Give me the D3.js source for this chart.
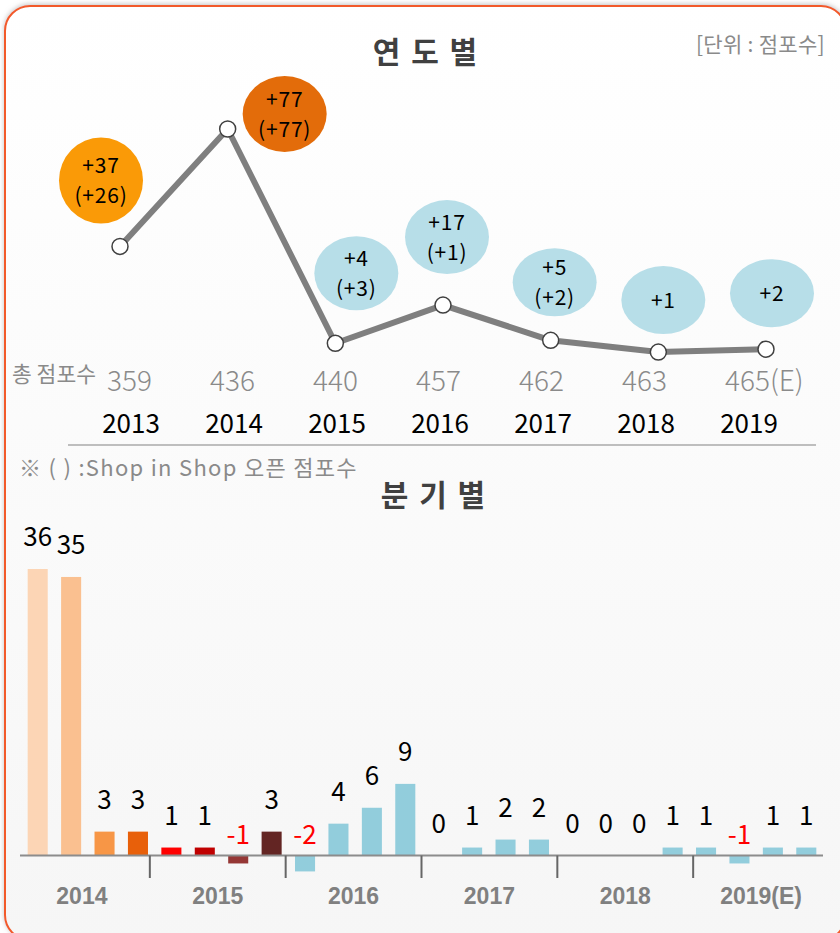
<!DOCTYPE html>
<html>
<head>
<meta charset="utf-8">
<script src="https://cdn.jsdelivr.net/npm/d3@7"></script>
<style>
  html, body { margin: 0; padding: 0; background: #fff; }
  svg { display: block; font-family: "Noto Sans CJK KR", "Noto Sans", sans-serif; }
</style>
</head>
<body>
<svg id="chart" width="840" height="933"></svg>
<script>
// yearly data
const years = ["2013", "2014", "2015", "2016", "2017", "2018", "2019"];
const yearChange = [37, 77, 4, 17, 5, 1, 2];
const shopInShop = [26, 77, 3, 1, 2, null, null];
const totals = ["359", "436", "440", "457", "462", "463", "465(E)"];
const bubbleColors = ["#fa9a07", "#e36c0a", "#b7dee8", "#b7dee8", "#b7dee8", "#b7dee8", "#b7dee8"];

// quarterly data
const quarterGroups = ["2014", "2015", "2016", "2017", "2018", "2019(E)"];
const quarterValues = [36, 35, 3, 3, 1, 1, -1, 3, -2, 4, 6, 9, 0, 1, 2, 2, 0, 0, 0, 1, 1, -1, 1, 1];
const quarterColors = [
  "#fcd5b5", "#fac090", "#f79646", "#e8600a",
  "#ff0000", "#c00000", "#953735", "#632523",
  "#92cddc", "#92cddc", "#92cddc", "#92cddc",
  "#92cddc", "#92cddc", "#92cddc", "#92cddc",
  "#92cddc", "#92cddc", "#92cddc", "#92cddc",
  "#92cddc", "#92cddc", "#92cddc", "#92cddc"
];

// bubble placement relative to each point (layout only)
const bubbleOffset = [[-19, -66], [57, -15], [21, -70], [4, -68], [4, -58], [5, -52], [6, -56]];
const bubbleRy = [43, 38, 37, 37, 34, 34, 34];

const svg = d3.select("#chart");

// frame
const defs = svg.append("defs");
const grad = defs.append("linearGradient").attr("id", "bg").attr("x1", 0).attr("y1", 0).attr("x2", 0).attr("y2", 1);
grad.append("stop").attr("offset", "0%").attr("stop-color", "#ffffff");
grad.append("stop").attr("offset", "100%").attr("stop-color", "#f6f6f6");
const shadow = defs.append("filter").attr("id", "shadow").attr("x", "-5%").attr("y", "-5%").attr("width", "110%").attr("height", "110%");
shadow.append("feDropShadow").attr("dx", 0).attr("dy", -1).attr("stdDeviation", 2.5)
  .attr("flood-color", "#888").attr("flood-opacity", 0.5);

svg.append("rect")
  .attr("x", 5).attr("y", 6).attr("width", 841).attr("height", 934).attr("rx", 25)
  .attr("fill", "url(#bg)").attr("stroke", "#f25a2c").attr("stroke-width", 2)
  .attr("filter", "url(#shadow)");

// ---------- top: 연도별 ----------
svg.append("text").attr("x", 426).attr("y", 63).attr("text-anchor", "middle")
  .attr("font-size", 30).attr("font-weight", "bold").attr("fill", "#404040")
  .attr("letter-spacing", 2)
  .text("연 도 별");

svg.append("text").attr("x", 825).attr("y", 52).attr("text-anchor", "end")
  .attr("font-size", 21).attr("fill", "#8a8a8a").attr("letter-spacing", 0.3)
  .text("[단위 : 점포수]");

const xLine = d3.scalePoint().domain(years).range([120, 766]);
const xLabel = d3.scalePoint().domain(years).range([131, 749]);
const yLine = d3.scaleLinear().domain([0, 77]).range([355, 129]);

const line = d3.line().x((d, i) => xLine(years[i])).y(d => yLine(d));

svg.append("path").datum(yearChange)
  .attr("d", line).attr("fill", "none")
  .attr("stroke", "#7f7f7f").attr("stroke-width", 6).attr("stroke-linejoin", "round");

svg.selectAll(".pt").data(yearChange).join("circle")
  .attr("class", "pt")
  .attr("cx", (d, i) => xLine(years[i])).attr("cy", d => yLine(d)).attr("r", 8)
  .attr("fill", "#fff").attr("stroke", "#404040").attr("stroke-width", 1.5);

// bubbles
const bubbles = svg.selectAll(".bubble").data(yearChange).join("g")
  .attr("class", "bubble")
  .attr("transform", (d, i) => `translate(${xLine(years[i]) + bubbleOffset[i][0]}, ${yLine(d) + bubbleOffset[i][1]})`);

bubbles.append("ellipse")
  .attr("rx", 42).attr("ry", (d, i) => bubbleRy[i])
  .attr("fill", (d, i) => bubbleColors[i]);

bubbles.append("text")
  .attr("text-anchor", "middle").attr("font-size", 21).attr("fill", "#000")
  .attr("letter-spacing", 0.8)
  .attr("y", (d, i) => shopInShop[i] == null ? 8 : -7)
  .text(d => "+" + d);

bubbles.each(function (d, i) {
  if (shopInShop[i] == null) return;
  d3.select(this).append("text")
    .attr("text-anchor", "middle").attr("font-size", 21).attr("fill", "#000")
    .attr("letter-spacing", 0.8)
    .attr("y", 23)
    .text("(+" + shopInShop[i] + ")");
});

// totals row
svg.append("text").attr("x", 12).attr("y", 382)
  .attr("font-size", 21.5).attr("fill", "#8a8a8a").text("총 점포수");

svg.selectAll(".total").data(totals).join("text")
  .attr("class", "total")
  .attr("x", (d, i) => xLabel(years[i]) - 24).attr("y", 391)
  .attr("font-size", 28).attr("font-weight", 300).attr("fill", "#8a8a8a")
  .text(d => d);

svg.selectAll(".year").data(years).join("text")
  .attr("class", "year")
  .attr("x", d => xLabel(d)).attr("y", 433).attr("text-anchor", "middle")
  .attr("font-size", 26).attr("fill", "#000")
  .text(d => d);

svg.append("line").attr("x1", 68).attr("x2", 816).attr("y1", 445).attr("y2", 445)
  .attr("stroke", "#aaa").attr("stroke-width", 1.5);

svg.append("text").attr("x", 19).attr("y", 476)
  .attr("font-size", 22).attr("fill", "#8a8a8a").attr("letter-spacing", 1.3)
  .text("※ ( ) :Shop in Shop 오픈 점포수");

// ---------- bottom: 분기별 ----------
svg.append("text").attr("x", 434).attr("y", 506).attr("text-anchor", "middle")
  .attr("font-size", 30).attr("font-weight", "bold").attr("fill", "#404040")
  .attr("letter-spacing", 2)
  .text("분 기 별");

const xBar = d3.scaleBand().domain(d3.range(quarterValues.length)).range([21, 823])
  .paddingInner(0.4).paddingOuter(0.2);
const yBar = d3.scaleLinear().domain([0, 36]).range([855.5, 569]);
const xGroup = d3.scaleBand().domain(quarterGroups).range([14, 829]);

svg.selectAll(".bar").data(quarterValues).join("rect")
  .attr("class", "bar")
  .attr("x", (d, i) => xBar(i)).attr("width", xBar.bandwidth())
  .attr("y", d => yBar(Math.max(d, 0)))
  .attr("height", d => Math.abs(yBar(d) - yBar(0)))
  .attr("fill", (d, i) => quarterColors[i]);

svg.selectAll(".barlabel").data(quarterValues).join("text")
  .attr("class", "barlabel")
  .attr("x", (d, i) => xBar(i) + xBar.bandwidth() / 2)
  .attr("y", d => d < 0 ? yBar(0) - 12 : yBar(d) - 23)
  .attr("text-anchor", "middle").attr("font-size", 26)
  .attr("fill", d => d < 0 ? "#ff0000" : "#000")
  .text(d => d);

svg.append("line").attr("x1", 20).attr("x2", 823).attr("y1", yBar(0)).attr("y2", yBar(0))
  .attr("stroke", "#8c8c8c").attr("stroke-width", 2);

svg.selectAll(".gtick").data(quarterGroups.slice(1)).join("line")
  .attr("class", "gtick")
  .attr("x1", d => xGroup(d)).attr("x2", d => xGroup(d))
  .attr("y1", yBar(0)).attr("y2", 878)
  .attr("stroke", "#666").attr("stroke-width", 2);

svg.selectAll(".glabel").data(quarterGroups).join("text")
  .attr("class", "glabel")
  .attr("x", d => xGroup(d) + xGroup.bandwidth() / 2).attr("y", 904)
  .attr("text-anchor", "middle")
  .attr("font-family", "'Liberation Sans', Arial, sans-serif")
  .attr("font-size", 23).attr("font-weight", "bold").attr("fill", "#808080")
  .text(d => d);
</script>
</body>
</html>
